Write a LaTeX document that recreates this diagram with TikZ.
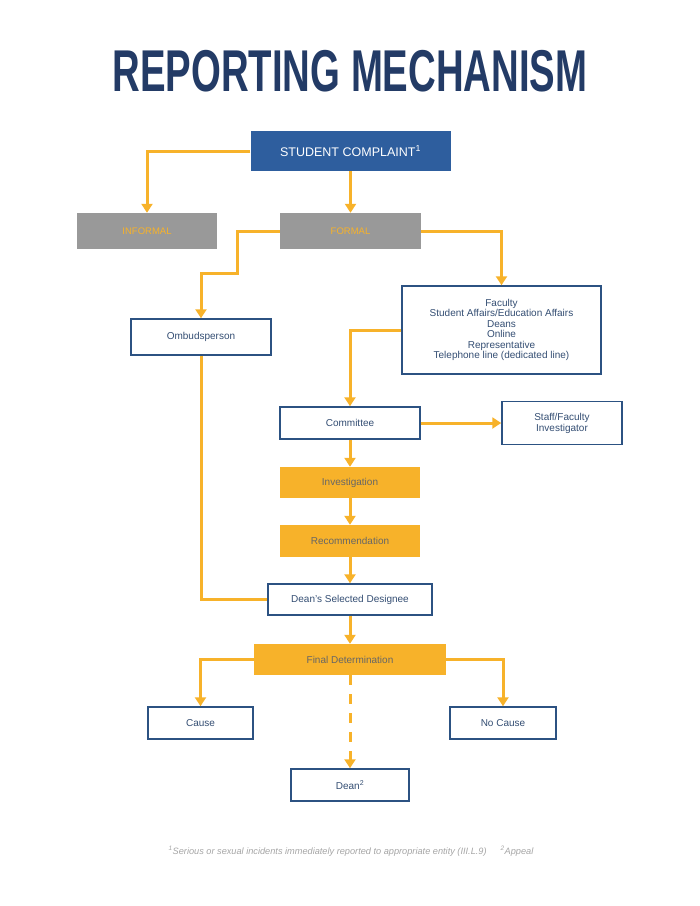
\documentclass[tikz,border=0pt]{standalone}
\usepackage{fontspec}
\setmainfont{Liberation Sans}
\usepackage{graphicx}
\usetikzlibrary{arrows.meta}
\definecolor{navy}{RGB}{35,59,102}
\definecolor{headblue}{RGB}{46,94,158}
\definecolor{edgeblue}{RGB}{44,82,130}
\definecolor{textblue}{RGB}{52,78,115}
\definecolor{flow}{RGB}{247,178,42}
\definecolor{stepgray}{RGB}{153,153,153}
\definecolor{notegray}{RGB}{165,165,165}
\tikzset{
  plainbox/.style={draw=edgeblue, line width=1.5pt, fill=white, text=textblue, inner sep=0, align=center, font=\fontsize{10}{10.4}\selectfont},
  flowbox/.style={fill=flow, text=black!60, inner sep=0, font=\fontsize{10}{12}\selectfont},
  branchbox/.style={fill=stepgray, text=flow, inner sep=0, font=\fontsize{9.5}{11}\selectfont},
  arr/.style={draw=flow, line width=3pt, -{Triangle[width=11pt,length=9pt]}},
  link/.style={draw=flow, line width=3pt},
}

\begin{document}
\begin{tikzpicture}[x=1pt,y=-1pt]
\useasboundingbox (0,0) rectangle (700,906);
\node[text=navy, font=\fontsize{59}{59}\selectfont\bfseries] (title) at (350,71) {\scalebox{0.65}[1]{REPORTING MECHANISM}};
% top of the chart
\node[fill=headblue, text=white, inner sep=0, minimum width=200, minimum height=40, font=\fontsize{12.5}{14}\selectfont] (complaint) at (350.5,151) {STUDENT COMPLAINT\textsuperscript{1}};
\node[branchbox, minimum width=140, minimum height=36] (informal) at (147,231) {INFORMAL};
\node[branchbox, minimum width=141, minimum height=36] (formal) at (350.5,231) {FORMAL};
\node[plainbox, minimum width=140, minimum height=36] (omb) at (201,337) {Ombudsperson};
\node[plainbox, minimum width=199, minimum height=88] (faculty) at (501.5,330) {Faculty\\Student Affairs/Education Affairs\\Deans\\Online\\Representative\\Telephone line (dedicated line)};
% middle column
\node[plainbox, minimum width=140, minimum height=32] (committee) at (350,423) {Committee};
\node[plainbox, minimum width=120, minimum height=43, font=\fontsize{10}{11}\selectfont] (staff) at (562,423) {Staff/Faculty\\Investigator};
\node[flowbox, minimum width=140, minimum height=31] (invest) at (350,482.5) {Investigation};
\node[flowbox, minimum width=140, minimum height=32] (recom) at (350,541) {Recommendation};
\node[plainbox, minimum width=164, minimum height=31] (designee) at (350,599.5) {Dean's Selected Designee};
\node[flowbox, minimum width=192, minimum height=31] (final) at (350,659.5) {Final Determination};
% outcomes
\node[plainbox, minimum width=105, minimum height=32] (cause) at (200.5,723) {Cause};
\node[plainbox, minimum width=106, minimum height=32] (nocause) at (503,723) {No Cause};
\node[plainbox, minimum width=118, minimum height=32] (dean) at (350,785) {Dean\textsuperscript{2}};
\node[text=notegray, font=\fontsize{9.2}{11}\selectfont\itshape] (note) at (351,851) {\textsuperscript{1}Serious or sexual incidents immediately reported to appropriate entity (III.L.9)\hspace{14pt}\textsuperscript{2}Appeal};
% connectors
\coordinate (kink) at (237,273);
\draw[arr] (complaint.west) -| (informal.north);
\draw[arr] (complaint) -- (formal);
\draw[arr] (formal.west) -| (kink) -| (omb.north);
\draw[arr] (formal.east) -| (faculty.north);
\draw[arr] (faculty.west) -| (committee.north);
\draw[arr] (committee) -- (staff);
\foreach \a/\b in {committee/invest, invest/recom, recom/designee, designee/final} {
 \draw[arr] (\a) -- (\b);
}
\draw[link] (omb.south) |- (designee.west);
\draw[arr] (final.west) -| (cause.north);
\draw[arr] (final.east) -| (nocause.north);
\draw[arr, dash pattern=on 10pt off 9pt] (final) -- (dean);
\end{tikzpicture}
\end{document}
